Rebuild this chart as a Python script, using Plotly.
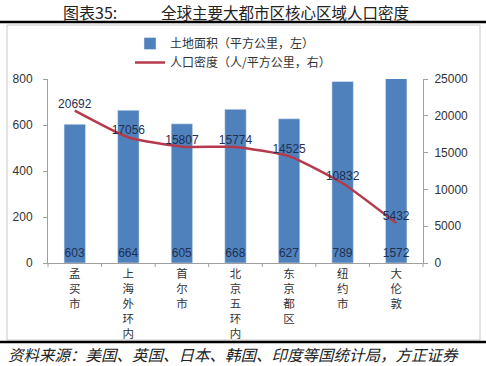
import plotly.graph_objects as go

cities = ["孟买市", "上海外环内", "首尔市", "北京五环内", "东京都区", "纽约市", "大伦敦"]
area = [603, 664, 605, 668, 627, 789, 1572]
density = [20692, 17056, 15807, 15774, 14525, 10832, 5432]
left_ticks = [0, 200, 400, 600, 800]
right_ticks = [0, 5000, 10000, 15000, 20000, 25000]

W, H = 486, 366
L, R, T, B = 48, 423, 79, 263
pw, ph = R - L, B - T

def px(x):
    return (x - L) / pw

def py(y):
    return (B - y) / ph

labels = ["<br>".join(list(c)) for c in cities]
font = "Liberation Sans, Noto Sans CJK SC, sans-serif"
cjk = "Noto Sans CJK SC, sans-serif"

fig = go.Figure()
fig.add_trace(go.Bar(
    x=labels, y=area, name="土地面积（平方公里，左）",
    marker_color="#4F81BD", width=0.4,
    text=[str(v) for v in area], textposition="inside", insidetextanchor="start",
    textfont=dict(color="#1F3050", size=12, family=font), cliponaxis=True,
    textangle=0,
))
fig.add_trace(go.Scatter(
    x=labels, y=density, name="人口密度（人/平方公里，右）", yaxis="y2",
    mode="lines+text", line=dict(color="#B53A4B", width=2.5, shape="spline", smoothing=0.5),
    text=[str(v) for v in density], textposition="top center",
    textfont=dict(color="#1F3050", size=12, family=font), cliponaxis=False,
))

fig.update_layout(
    width=W, height=H,
    margin=dict(l=L, r=W - R, t=T, b=H - B, autoexpand=False),
    paper_bgcolor="white", plot_bgcolor="white",
    showlegend=True,
    uniformtext=dict(minsize=12, mode="show"),
    legend=dict(x=px(130), y=py(29), xanchor="left", yanchor="top",
                orientation="v", font=dict(size=12, family=cjk, color="#333333"),
                bgcolor="rgba(0,0,0,0)", tracegroupgap=0, itemwidth=30),
    xaxis=dict(showline=True, linecolor="#A0A0A0", linewidth=1, ticks="",
               tickfont=dict(size=11.5, family=cjk, color="#333333"), tickangle=0,
               showgrid=False, automargin=False),
    yaxis=dict(range=[0, 800], tickvals=left_ticks, showline=True, linecolor="#A0A0A0",
               ticks="outside", ticklen=4, tickcolor="#A0A0A0", showgrid=False,
               ticklabelstandoff=8, automargin=False,
               tickfont=dict(size=12, family=font, color="#333333")),
    yaxis2=dict(range=[0, 25000], tickvals=right_ticks, ticktext=[str(v) for v in right_ticks],
                overlaying="y", side="right",
                showline=True, linecolor="#A0A0A0", ticks="outside", ticklen=4,
                tickcolor="#A0A0A0", showgrid=False, automargin=False,
                ticklabelstandoff=4,
                tickfont=dict(size=12, family=font, color="#333333")),
    font=dict(family=cjk),
)

shapes = [
    dict(type="line", xref="paper", yref="paper", x0=px(0), x1=px(W), y0=py(22), y1=py(22),
         line=dict(color="black", width=2.5)),
    dict(type="line", xref="paper", yref="paper", x0=px(0), x1=px(W), y0=py(342), y1=py(342),
         line=dict(color="black", width=2.5)),
    dict(type="rect", xref="paper", yref="paper", x0=px(7), x1=px(480), y0=py(25), y1=py(340),
         line=dict(color="#C8C8C8", width=1), layer="below"),
]
for i in range(8):
    xx = L + i * pw / 7
    shapes.append(dict(type="line", xref="paper", yref="paper", x0=px(xx), x1=px(xx),
                       y0=py(B), y1=py(B + 4), line=dict(color="#A0A0A0", width=1)))
fig.update_layout(shapes=shapes)

fig.add_annotation(xref="paper", yref="paper", x=px(61), y=py(12), xanchor="left", yanchor="middle",
                   text="图表35:", showarrow=False,
                   font=dict(size=16, family=cjk, color="#222222"))
fig.add_annotation(xref="paper", yref="paper", x=px(159), y=py(12), xanchor="left", yanchor="middle",
                   text="全球主要大都市区核心区域人口密度", showarrow=False,
                   font=dict(size=15.5, family=cjk, color="#222222"))
fig.add_annotation(xref="paper", yref="paper", x=px(6), y=py(354), xanchor="left", yanchor="middle",
                   text="<i>资料来源：美国、英国、日本、韩国、印度等国统计局，方正证券</i>", showarrow=False,
                   font=dict(size=15.5, family=cjk, color="#222222"))

fig.write_html("out.html", config={"displayModeBar": False},
               post_script="document.body.style.margin='0';document.body.style.overflow='hidden';")
